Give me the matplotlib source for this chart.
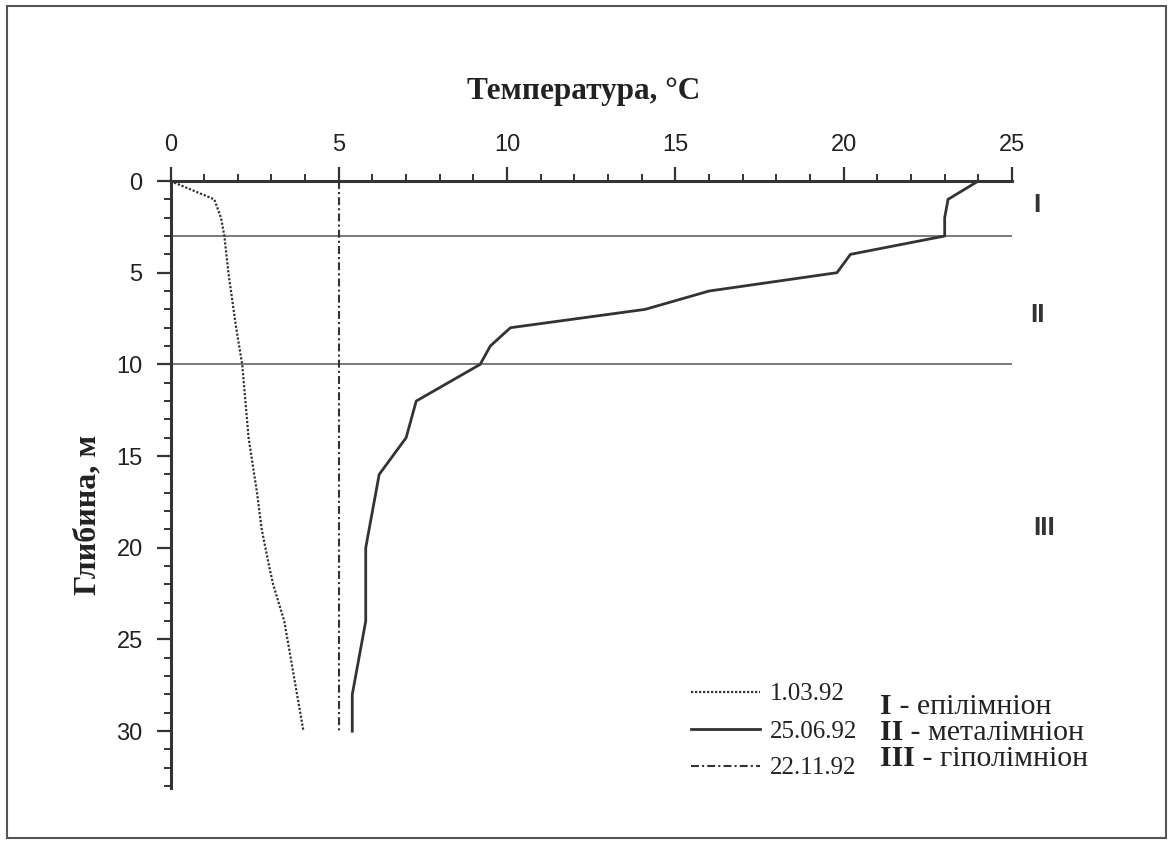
import matplotlib
matplotlib.use("Agg")
import matplotlib.pyplot as plt
from matplotlib.ticker import MultipleLocator
from matplotlib.patches import Rectangle

# ---- data ----
depth_0103 = [0, 1, 2, 3, 5, 8, 10, 14, 17, 19, 21, 22, 24, 30]
temp_0103 = [0, 1.3, 1.5, 1.6, 1.72, 1.95, 2.13, 2.32, 2.57, 2.71, 2.93, 3.05, 3.38, 3.95]

depth_2506 = [0, 1, 2, 3, 4, 5, 6, 7, 8, 9, 10, 12, 14, 16, 20, 24, 28, 30]
temp_2506 = [24.0, 23.1, 23.0, 23.0, 20.2, 19.8, 16.0, 14.1, 10.1, 9.5, 9.2,
             7.3, 7.0, 6.2, 5.8, 5.8, 5.4, 5.4]

depth_2211 = [0, 30]
temp_2211 = [5.0, 5.0]

series_labels = ["1.03.92", "25.06.92", "22.11.92"]
layer_bounds = [3, 10]
layer_numerals = ["I", "II", "III"]
layer_names = ["епілімніон", "металімніон", "гіполімніон"]
x_ticks = [0, 5, 10, 15, 20, 25]
y_ticks = [0, 5, 10, 15, 20, 25, 30]

W, H = 1173, 843
fig = plt.figure(figsize=(W / 100, H / 100), dpi=100)
fig.patch.set_facecolor("white")

# outer frame
fig.patches.append(Rectangle((7 / W, 1 - 838 / H), (1166 - 7) / W, (838 - 6) / H,
                             transform=fig.transFigure, fill=False,
                             edgecolor="#555555", lw=1.5))

ax = fig.add_axes([170.5 / W, 1 - 788 / H, (1012 - 170.5) / W, (788 - 181) / H])
ink = "#333333"

ax.set_xlim(0, 25)
ax.set_ylim(33.1, 0)

for b in layer_bounds:
    ax.plot([0, 25], [b, b], color="#555555", lw=1.1, zorder=1)

l1, = ax.plot(temp_0103, depth_0103, color=ink, lw=1.6, linestyle=(0, (1, 0.8)),
              label=series_labels[0], clip_on=False)
l2, = ax.plot(temp_2506, depth_2506, color=ink, lw=2.0, linestyle="-",
              label=series_labels[1], clip_on=False)
l3, = ax.plot(temp_2211, depth_2211, color=ink, lw=1.5,
              linestyle=(0, (3.8, 1.5, 1, 1.5)), label=series_labels[2], clip_on=False)

for s in ["right", "bottom"]:
    ax.spines[s].set_visible(False)
for s in ["top", "left"]:
    ax.spines[s].set_linewidth(2.2)
    ax.spines[s].set_color(ink)

ax.xaxis.tick_top()
ax.set_xticks(x_ticks)
ax.set_yticks(y_ticks)
ax.xaxis.set_minor_locator(MultipleLocator(1))
ax.yaxis.set_minor_locator(MultipleLocator(1))
tick_font = ["Liberation Sans Narrow", "Liberation Sans", "DejaVu Sans"]
ax.tick_params(axis="x", which="major", direction="out", length=10, width=1.6,
               color=ink, pad=8, labelsize=17, labelcolor="#222222")
ax.tick_params(axis="x", which="minor", direction="out", length=5, width=1.4, color=ink)
ax.tick_params(axis="y", which="major", direction="out", length=10, width=1.6,
               color=ink, pad=10, labelsize=17, labelcolor="#222222")
ax.tick_params(axis="y", which="minor", direction="out", length=5, width=1.4, color=ink)
for lab in ax.get_xticklabels() + ax.get_yticklabels():
    lab.set_family(tick_font)

serif = ["Liberation Serif", "DejaVu Serif"]

# axis titles
fig.text(584 / W, 1 - 91 / H, "Температура, °C", family=serif, fontweight="bold",
         fontsize=22.5, ha="center", va="center", color="#222222")
fig.text(88 / W, 1 - 515 / H, "Глибина, м", family=serif, fontweight="bold",
         fontsize=23, ha="center", va="center", rotation=90, color="#222222")

# layer numerals at right
for num, d, xp in zip(layer_numerals, [1.3, 7.3, 18.9], [1037, 1038, 1044]):
    ax.text((xp - 170.5) / 33.66, d, num, family=["Liberation Sans", "DejaVu Sans"],
            fontweight="bold", fontsize=19, ha="center", va="center",
            color="#333333", clip_on=False)

# series legend
leg = ax.legend(handles=[l1, l2, l3], loc="upper left",
                bbox_to_anchor=(691 / W, 1 - 683 / H), bbox_transform=fig.transFigure,
                frameon=False, prop={"family": serif, "size": 18},
                handlelength=2.75, handletextpad=0.4, labelspacing=0.58,
                borderpad=0, borderaxespad=0)
for t in leg.get_texts():
    t.set_color("#222222")

# layer legend
for num, name, yb in zip(layer_numerals, layer_names, [714, 740, 766]):
    t1 = fig.text(880 / W, 1 - yb / H, num, family=serif, fontweight="bold",
                  fontsize=21.5, ha="left", va="baseline", color="#222222")
    ax.annotate(" - " + name, xy=(1, 0), xycoords=t1, family=serif,
                fontsize=21.5, ha="left", va="bottom", color="#222222",
                annotation_clip=False)

fig.savefig("out.png", dpi=100, facecolor="white")
